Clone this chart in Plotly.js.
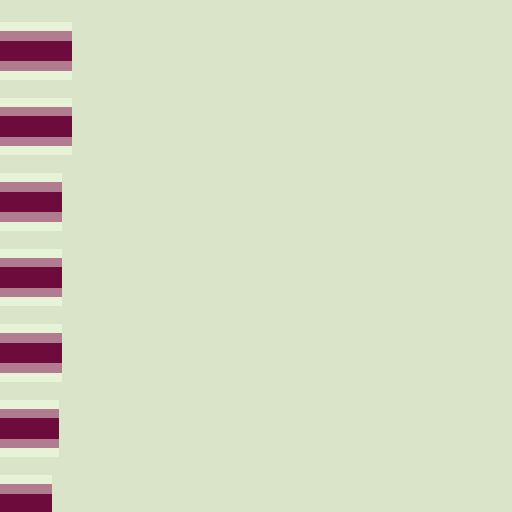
<!DOCTYPE html>
<html>
<head>
<meta charset="utf-8">
<script src="https://cdn.plot.ly/plotly-3.0.1.min.js"></script>
<style>
  html, body { margin: 0; padding: 0; background: #d9e4c8; }
  #plot { width: 512px; height: 512px; }
</style>
</head>
<body>
<div id="plot"></div>
<script>
"use strict";

const rows   = [0, 1, 2, 3, 4, 5, 6];
const values = [14.1, 14.1, 12.1, 12.1, 12.1, 11.6, 10.2];

// Three stacked-in-place layers give the soft, blurred bar edges.
const layers = [
    { color: "#e7f3d6", width: 0.76 },   // pale halo
    { color: "#b27c90", width: 0.52 },   // mauve fringe
    { color: "#6d0b3c", width: 0.27 },   // dark core
];

const traces = layers.map(l => ({
    type: "bar", orientation: "h",
    x: values, y: rows,
    width: l.width,
    marker: { color: l.color, line: { width: 0 } },
    hoverinfo: "skip", showlegend: false,
}));

const layout = {
    width: 512, height: 512,
    margin: { l: 0, r: 0, t: 0, b: 0 },
    paper_bgcolor: "#d9e4c8", plot_bgcolor: "#d9e4c8",
    barmode: "overlay", bargap: 0,
    xaxis: { range: [0, 100], visible: false, fixedrange: true },
    yaxis: { range: [6.106, -0.675], visible: false, fixedrange: true },
    showlegend: false,
};

Plotly.newPlot("plot", traces, layout, { staticPlot: true, displayModeBar: false });
</script>
</body>
</html>
